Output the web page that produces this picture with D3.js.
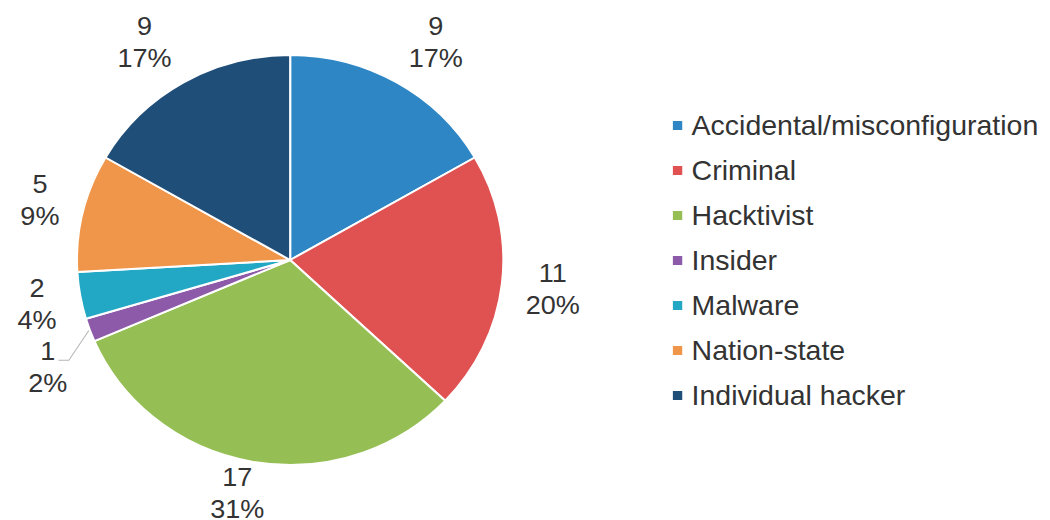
<!DOCTYPE html>
<html>
<head>
<meta charset="utf-8">
<script src="https://cdn.jsdelivr.net/npm/d3@7"></script>
<style>
  html, body { margin: 0; padding: 0; background: #fff; }
  svg { display: block; }
  text { font-family: "Liberation Sans", Arial, sans-serif; fill: #333; }
</style>
</head>
<body>
<svg id="chart" width="1050" height="520"></svg>
<script>
// Incident counts by threat actor
const categories = ["Accidental/misconfiguration", "Criminal", "Hacktivist", "Insider", "Malware", "Nation-state", "Individual hacker"];
const counts = [9, 11, 17, 1, 2, 5, 9];
const colors = ["#2e86c5", "#e05252", "#95bf55", "#8c5aa8", "#22a8c4", "#f0964b", "#1f4e79"];

const cx = 279, cy = 260, R = 205;
const labelRx = 228, labelRy = 216.6, liftTop = 5.7;
const fontSize = 26, legendFont = 27.4;

const svg = d3.select("#chart");
// whole drawing is slightly wider than tall
const root = svg.append("g").attr("transform", "scale(1.04,1)");

const data = categories.map((c, i) => ({ name: c, value: counts[i], color: colors[i] }));
const total = d3.sum(counts);

const pie = d3.pie().value(d => d.value).sort(null);
const arc = d3.arc().innerRadius(0).outerRadius(R);
const arcs = pie(data);

const g = root.append("g").attr("transform", `translate(${cx},${cy})`);

g.selectAll("path.slice")
  .data(arcs)
  .enter().append("path")
  .attr("class", "slice")
  .attr("d", arc)
  .attr("fill", d => d.data.color)
  .attr("stroke", "#fff")
  .attr("stroke-width", 2)
  .attr("stroke-linejoin", "round");

// value + percentage labels outside each slice
const pct = d3.format(".0%");
const lineGap = 32;
const hh = (lineGap + fontSize * 0.72) / 2;
const clamp = v => Math.max(-1, Math.min(1, v));

const labels = arcs.map(a => {
  const mid = (a.startAngle + a.endAngle) / 2;
  const s = Math.sin(mid), c = Math.cos(mid);
  const t = g.append("text")
    .attr("text-anchor", "middle")
    .attr("font-size", fontSize);
  const l1 = t.append("tspan").attr("x", 0).attr("y", 0).text(a.data.value);
  const l2 = t.append("tspan").attr("x", 0).attr("y", lineGap).text(pct(a.data.value / total));
  const hw = t.node().getBBox().width / 2;
  const bx = labelRx * s + hw * clamp(2.5 * s);
  const by = -labelRy * c - hh * clamp(1.5 * c) - liftTop * Math.abs(c);
  return { a, s, c, l1, l2, hw, bx, by };
});

// keep label blocks on the left side from overlapping
const left = labels.filter(d => d.s < 0).sort((p, q) => p.by - q.by);
const gap = 13;
for (let i = 1; i < left.length; i++) {
  const p = left[i - 1], q = left[i];
  const xOverlap = Math.abs(p.bx - q.bx) < p.hw + q.hw;
  if (xOverlap && q.by - hh < p.by + hh + gap) {
    q.by = p.by + 2 * hh + gap;
    q.moved = true;
  }
}

labels.forEach(d => {
  const y1 = d.by - lineGap / 2 + fontSize * 0.36;
  d.l1.attr("x", d.bx).attr("y", y1);
  d.l2.attr("x", d.bx).attr("y", y1 + lineGap);

  // leader line for labels pulled away from their slice
  if (d.moved) {
    const b1 = d.l1.node().getBBox();
    const ex = b1.x + b1.width + 3;
    const ey = b1.y + b1.height * 0.8;
    const px = (R + 1) * d.s, py = -(R + 1) * d.c;
    g.append("polyline")
      .attr("points", [[px, py], [ex + 10, ey], [ex, ey]].map(p => p.join(",")).join(" "))
      .attr("fill", "none")
      .attr("stroke", "#b5b5b5")
      .attr("stroke-width", 1);
  }
});

// legend
const legend = root.append("g").attr("transform", "translate(647,125)");
const rowH = 45;
const rows = legend.selectAll("g.row")
  .data(data)
  .enter().append("g")
  .attr("class", "row")
  .attr("transform", (d, i) => `translate(0,${i * rowH})`);

rows.append("rect")
  .attr("x", 0).attr("y", -4)
  .attr("width", 9).attr("height", 9)
  .attr("fill", d => d.color);

rows.append("text")
  .attr("x", 18)
  .attr("y", 9.5)
  .attr("font-size", legendFont)
  .text(d => d.name);
</script>
</body>
</html>
